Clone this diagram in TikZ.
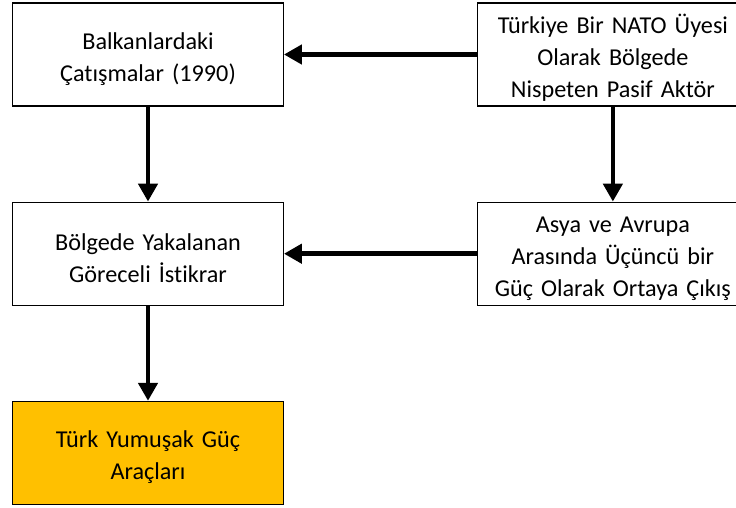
\documentclass[tikz,border=0pt]{standalone}
\usepackage{fontspec}
\setmainfont{Carlito}[Ligatures=NoCommon]
\usepackage{xcolor}
\usetikzlibrary{arrows.meta, positioning}

\definecolor{gucsari}{HTML}{FFC000}

\begin{document}
\begin{tikzpicture}[x=1pt, y=1pt, node distance=95pt and 193pt]
    \tikzstyle{kutu} = [rectangle, minimum width=269pt, minimum height=103pt, text width=264pt, align=center, draw=black, line width=1.2pt, fill=white, font=\fontsize{24.2}{32}\selectfont, execute at begin node={\rule{0pt}{26pt}}]
    \tikzstyle{sonuc} = [kutu, fill=gucsari, minimum width=267pt]
    \tikzstyle{ok} = [line width=4.5pt, -{Triangle[length=18pt, width=19pt]}]

    \useasboundingbox (0,0) rectangle (736,-507);

    \node (balkan) [kutu] at (148,-54.5) {Balkanlardaki\\Çatışmalar (1990)};
    \node (nato) [kutu, right=of balkan] {Türkiye Bir NATO Üyesi\\Olarak Bölgede\\Nispeten Pasif Aktör};
    \node (istikrar) [kutu, below=of balkan] {Bölgede Yakalanan\\Göreceli İstikrar};
    \node (asya) [kutu, below=of nato] {Asya ve Avrupa\\Arasında Üçüncü bir\\Güç Olarak Ortaya Çıkış};
    \node (arac) [sonuc, below=of istikrar] {Türk Yumuşak Güç\\Araçları};

    \draw [ok] (nato) -- (balkan);
    \draw [ok] (asya) -- (istikrar);
    \draw [ok] (balkan) -- (istikrar);
    \draw [ok] (nato) -- (asya);
    \draw [ok] (istikrar) -- (arac);
\end{tikzpicture}
\end{document}
